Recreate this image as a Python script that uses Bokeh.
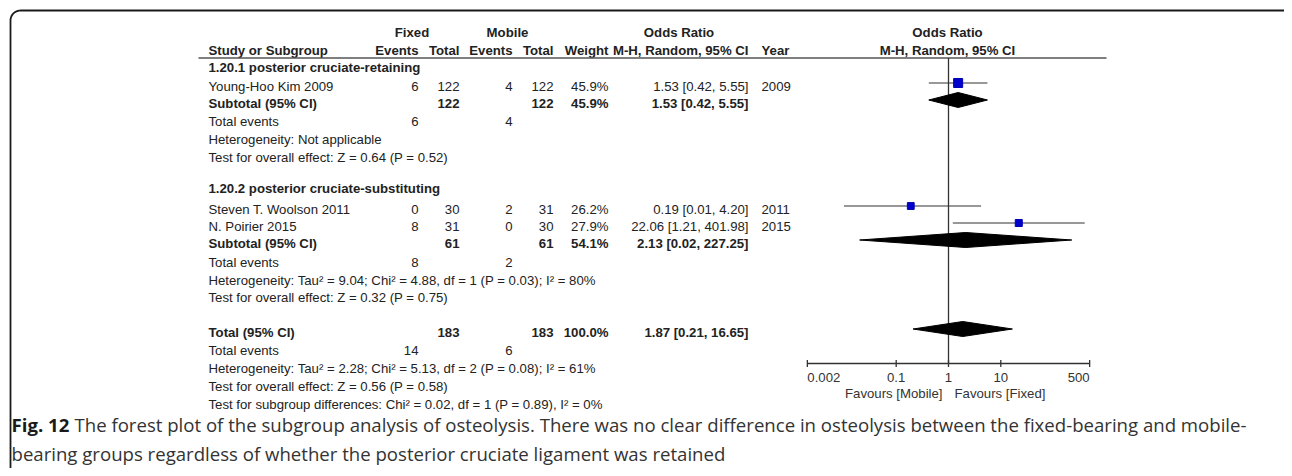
import numpy as np
from bokeh.plotting import figure
from bokeh.models import Range1d, LogScale, ColumnDataSource
from bokeh.core.properties import value
from bokeh.embed import file_html
from bokeh.resources import INLINE

# ---------------- data ----------------
studies = ["Young-Hoo Kim 2009", "Steven T. Woolson 2011", "N. Poirier 2015"]
fixed_events = [6, 0, 8]
fixed_total = [122, 30, 31]
mobile_events = [4, 2, 0]
mobile_total = [122, 31, 30]
weights = [45.9, 26.2, 27.9]
or_est = [1.53, 0.19, 22.06]
or_lo = [0.42, 0.01, 1.21]
or_hi = [5.55, 4.20, 401.98]
years = [2009, 2011, 2015]

subgroups = ["1.20.1 posterior cruciate-retaining", "1.20.2 posterior cruciate-substituting"]
sub_fixed_total = [122, 61]
sub_mobile_total = [122, 61]
sub_weight = [45.9, 54.1]
sub_or = [1.53, 2.13]
sub_lo = [0.42, 0.02]
sub_hi = [5.55, 227.25]
sub_fixed_events = [6, 8]
sub_mobile_events = [4, 2]
sub_het = ["Heterogeneity: Not applicable",
           "Heterogeneity: Tau\u00b2 = 9.04; Chi\u00b2 = 4.88, df = 1 (P = 0.03); I\u00b2 = 80%"]
sub_test = ["Test for overall effect: Z = 0.64 (P = 0.52)",
            "Test for overall effect: Z = 0.32 (P = 0.75)"]

tot_fixed_total = 183
tot_mobile_total = 183
tot_weight = 100.0
tot_or = 1.87
tot_lo = 0.21
tot_hi = 16.65
tot_fixed_events = 14
tot_mobile_events = 6
tot_het = "Heterogeneity: Tau\u00b2 = 2.28; Chi\u00b2 = 5.13, df = 2 (P = 0.08); I\u00b2 = 61%"
tot_test = "Test for overall effect: Z = 0.56 (P = 0.58)"
tot_subdiff = "Test for subgroup differences: Chi\u00b2 = 0.02, df = 1 (P = 0.89), I\u00b2 = 0%"

axis_ticks = [0.002, 0.1, 1, 10, 500]
axis_labels = ["0.002", "0.1", "1", "10", "500"]
favours = ["Favours [Mobile]", "Favours [Fixed]"]

caption_bold = "Fig. 12"
caption_lines = ["The forest plot of the subgroup analysis of osteolysis. There was no clear difference in osteolysis between the fixed-bearing and mobile-",
                 "bearing groups regardless of whether the posterior cruciate ligament was retained"]

# ---------------- layout ----------------
W, H = 1284, 468
TXT = "#222222"
FONT = "Liberation Sans"
CAP_FONT = "Open Sans"
FS = 13.2

OR_ONE_PX = 948.0
PX_DEC = 52.3

p = figure(width=W, height=H, output_backend="svg", toolbar_location=None,
           x_range=Range1d(0, W), y_range=Range1d(H, 0),
           x_axis_location=None, y_axis_location=None, min_border=0)
p.grid.visible = False
p.outline_line_color = None
p.background_fill_color = "white"
p.border_fill_color = "white"
p.extra_x_ranges = {"or": Range1d(10 ** ((0 - OR_ONE_PX) / PX_DEC), 10 ** ((W - OR_ONE_PX) / PX_DEC))}
p.extra_x_scales = {"or": LogScale()}


def put(xs, ys, ts, align="left", bold=False, size=FS, color=TXT, font=FONT, rn="default"):
    src = ColumnDataSource(dict(x=list(xs), y=list(ys), t=[str(t) for t in ts]))
    p.text(x="x", y="y", text="t", source=src, text_align=align, text_baseline="middle",
           text_font=value(font), text_font_size=f"{size}px",
           text_font_style="bold" if bold else "normal", text_color=color, x_range_name=rn)


# frame border (rounded top-left corner)
r = 10
ang = np.linspace(np.pi, 1.5 * np.pi, 20)
bx = [10] + list(20 + r * np.cos(ang)) + [W]
by = [H] + list(20 + r * np.sin(ang)) + [10]
p.line(bx, by, line_color="#1a1a1a", line_width=1.8)

# column positions
X_LABEL = 208
X_FE, X_FT, X_ME, X_MT, X_W, X_CI, X_YR = 418, 459, 512, 553, 608, 748, 761

# headers
put([411.5, 507, 678.5, 947], [32] * 4, ["Fixed", "Mobile", "Odds Ratio", "Odds Ratio"], align="center", bold=True)
put([X_LABEL], [50], ["Study or Subgroup"], bold=True)
put([X_FE, X_FT, X_ME, X_MT, X_W, X_CI], [50] * 6,
    ["Events", "Total", "Events", "Total", "Weight", "M-H, Random, 95% CI"], align="right", bold=True)
put([X_YR], [50], ["Year"], bold=True)
put([947], [50], ["M-H, Random, 95% CI"], align="center", bold=True)
p.segment(x0=[198], x1=[1106], y0=[57.5], y1=[57.5], line_color="#555555", line_width=1.6)

# row positions
grp_y = [67, 188]
study_y = [86, 209, 226]
subt_y = [103, 243]
tev_y = [121, 262]
het_y = [139, 280]
test_y = [157, 297]
TOT_Y, TOTEV_Y, TOTHET_Y, TOTTEST_Y, SUBDIFF_Y = 332, 350, 368, 386, 404
MARK_OFF = -3.5

fmt_ci = lambda e, l, h: f"{e:.2f} [{l:.2f}, {h:.2f}]"

# subgroup headers
put([X_LABEL] * 2, grp_y, subgroups, bold=True)

# studies
put([X_LABEL] * 3, study_y, studies)
put([X_FE] * 3, study_y, fixed_events, align="right")
put([X_FT] * 3, study_y, fixed_total, align="right")
put([X_ME] * 3, study_y, mobile_events, align="right")
put([X_MT] * 3, study_y, mobile_total, align="right")
put([X_W] * 3, study_y, [f"{w:.1f}%" for w in weights], align="right")
put([X_CI] * 3, study_y, [fmt_ci(e, l, h) for e, l, h in zip(or_est, or_lo, or_hi)], align="right")
put([X_YR] * 3, study_y, years)

# subtotals
put([X_LABEL] * 2, subt_y, ["Subtotal (95% CI)"] * 2, bold=True)
put([X_FT] * 2, subt_y, sub_fixed_total, align="right", bold=True)
put([X_MT] * 2, subt_y, sub_mobile_total, align="right", bold=True)
put([X_W] * 2, subt_y, [f"{w:.1f}%" for w in sub_weight], align="right", bold=True)
put([X_CI] * 2, subt_y, [fmt_ci(e, l, h) for e, l, h in zip(sub_or, sub_lo, sub_hi)], align="right", bold=True)
put([X_LABEL] * 2, tev_y, ["Total events"] * 2)
put([X_FE] * 2, tev_y, sub_fixed_events, align="right")
put([X_ME] * 2, tev_y, sub_mobile_events, align="right")
put([X_LABEL] * 2, het_y, sub_het)
put([X_LABEL] * 2, test_y, sub_test)

# overall
put([X_LABEL], [TOT_Y], ["Total (95% CI)"], bold=True)
put([X_FT], [TOT_Y], [tot_fixed_total], align="right", bold=True)
put([X_MT], [TOT_Y], [tot_mobile_total], align="right", bold=True)
put([X_W], [TOT_Y], [f"{tot_weight:.1f}%"], align="right", bold=True)
put([X_CI], [TOT_Y], [fmt_ci(tot_or, tot_lo, tot_hi)], align="right", bold=True)
put([X_LABEL], [TOTEV_Y], ["Total events"])
put([X_FE], [TOTEV_Y], [tot_fixed_events], align="right")
put([X_ME], [TOTEV_Y], [tot_mobile_events], align="right")
put([X_LABEL] * 3, [TOTHET_Y, TOTTEST_Y, SUBDIFF_Y], [tot_het, tot_test, tot_subdiff])

# ---------------- forest plot ----------------
AXIS_Y = 363
p.segment(x0=[1], x1=[1], y0=[57.5], y1=[AXIS_Y], line_color="#333333", line_width=1.3, x_range_name="or")

sy = [y + MARK_OFF for y in study_y]
p.segment(x0=or_lo, x1=or_hi, y0=sy, y1=sy, line_color="#333333", line_width=1.2, x_range_name="or")
p.scatter(x=or_est, y=sy, marker="square", size=[1.33 * np.sqrt(w) for w in weights],
          fill_color="#0000CC", line_color="#0000B0", x_range_name="or")

DH = 7.5
dys = [y + MARK_OFF for y in subt_y] + [TOT_Y + MARK_OFF]
d_est = sub_or + [tot_or]
d_lo = sub_lo + [tot_lo]
d_hi = sub_hi + [tot_hi]
p.patches(xs=[[l, e, h, e] for e, l, h in zip(d_est, d_lo, d_hi)],
          ys=[[y, y - DH, y, y + DH] for y in dys],
          fill_color="black", line_color="black", x_range_name="or")

# axis
p.segment(x0=[axis_ticks[0]], x1=[axis_ticks[-1]], y0=[AXIS_Y], y1=[AXIS_Y],
          line_color="#333333", line_width=1.3, x_range_name="or")
p.segment(x0=axis_ticks, x1=axis_ticks, y0=[AXIS_Y - 3.5] * 5, y1=[AXIS_Y + 3.5] * 5,
          line_color="#333333", line_width=1.3, x_range_name="or")
put(axis_ticks[:1], [377], axis_labels[:1], align="left", color="#333333", rn="or")
put(axis_ticks[1:-1], [377] * 3, axis_labels[1:-1], align="center", color="#333333", rn="or")
put(axis_ticks[-1:], [377], axis_labels[-1:], align="right", color="#333333", rn="or")
put([942], [393], favours[:1], align="right", color="#333333")
put([954], [393], favours[1:], align="left", color="#333333")

# caption
put([11], [424], [caption_bold], bold=True, size=18.6, color="#1a1a1a", font=CAP_FONT)
put([74, 11], [424, 453], caption_lines, size=18.6, color="#333333", font=CAP_FONT)

open("out.html", "w").write(file_html(p, INLINE))
